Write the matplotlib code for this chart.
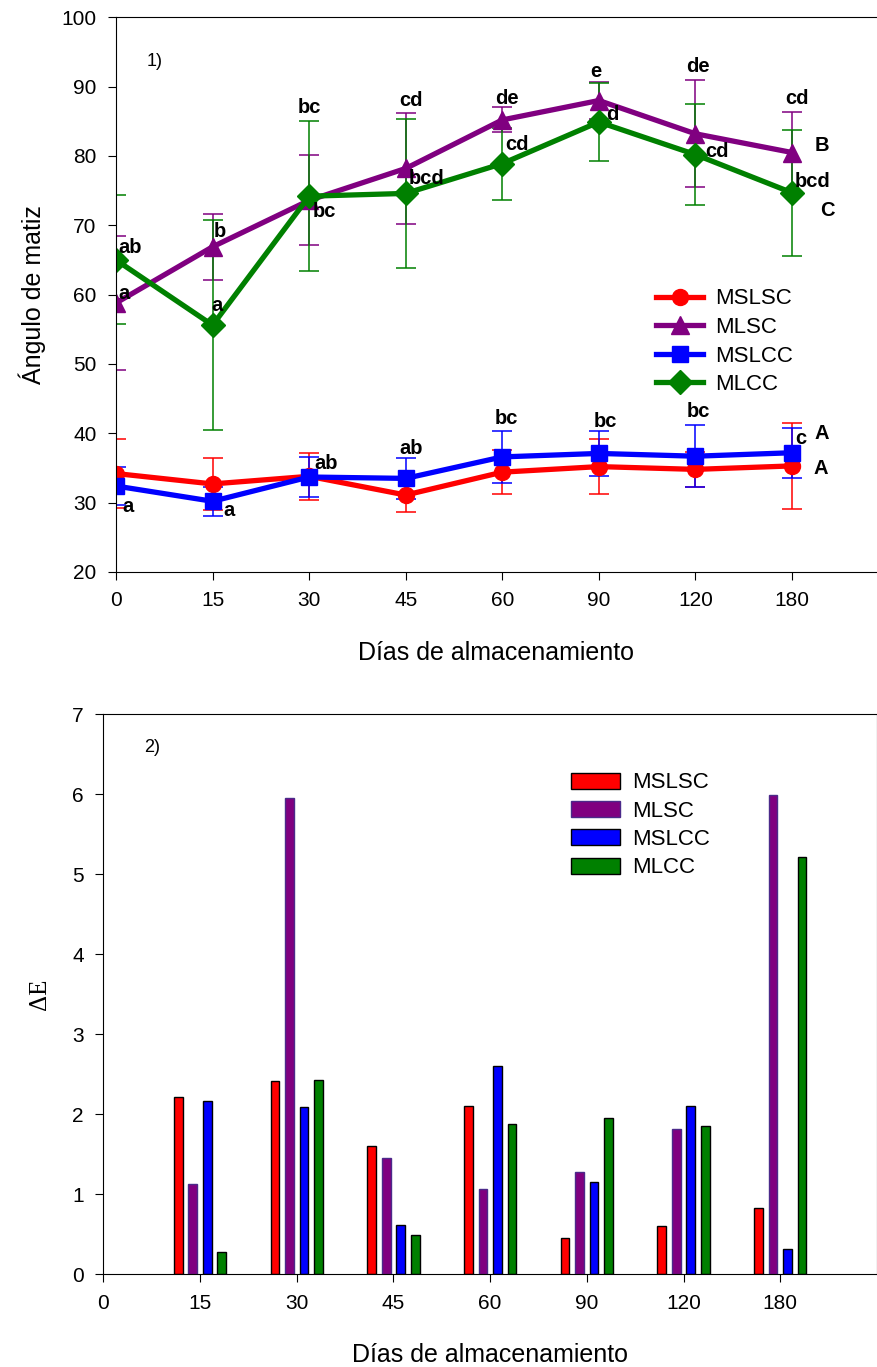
import numpy as np
import matplotlib
matplotlib.use('Agg')
from matplotlib import pyplot as plt

plt.rcParams['font.family'] = ['Liberation Sans', 'DejaVu Sans']

# Datos
dias = ['0', '15', '30', '45', '60', '90', '120', '180']
series = ['MSLSC', 'MLSC', 'MSLCC', 'MLCC']
colores = ['#ff0000', '#800080', '#0000ff', '#008000']
marcadores = ['o', '^', 's', 'D']

matiz_mslsc = [34.2, 32.7, 33.8, 31.1, 34.4, 35.2, 34.8, 35.3]
matiz_mlsc = [58.8, 66.9, 73.6, 78.2, 85.2, 88.0, 83.2, 80.5]
matiz_mslcc = [32.4, 30.2, 33.7, 33.5, 36.6, 37.1, 36.7, 37.2]
matiz_mlcc = [65.0, 55.6, 74.2, 74.6, 78.9, 84.9, 80.2, 74.7]

err_mslsc = [5.0, 3.7, 3.4, 2.5, 3.2, 4.0, 2.5, 6.2]
err_mlsc = [9.7, 4.8, 6.5, 8.0, 1.8, 2.6, 7.7, 5.8]
err_mslcc = [2.7, 2.1, 2.9, 3.0, 3.8, 3.3, 4.5, 3.6]
err_mlcc = [9.3, 15.1, 10.8, 10.7, 5.2, 5.6, 7.3, 9.1]

# letras de significancia
letras_mslsc = [''] * 8
letras_mlsc = ['a', 'b', 'bc', 'cd', 'de', 'e', 'de', 'cd']
letras_mslcc = ['a', 'a', 'ab', 'ab', 'bc', 'bc', 'bc', 'c']
letras_mlcc = ['ab', 'a', 'bc', 'bcd', 'cd', 'd', 'cd', 'bcd']
grupos = ['A', 'B', 'A', 'C']

# posicion de las letras (pixeles respecto al punto) y alineacion
off_mslsc = [(0, 0)] * 8
ha_mslsc = ['left'] * 8
off_mlsc = [(2, 9), (1, 15), (0, 93), (5, 68), (5, 21), (-3, 29), (2, 67), (5, 54)]
ha_mlsc = ['left', 'left', 'center', 'center', 'center', 'center', 'center', 'center']
off_mslcc = [(6, -20), (11, -9), (5, 14), (5, 30), (4, 38), (7, 32), (3, 45), (3, 14)]
ha_mslcc = ['left', 'left', 'left', 'center', 'center', 'center', 'center', 'left']
off_mlcc = [(2, 12), (-1, 20), (4, -15), (3, 15), (3, 19), (7, 7), (10, 3), (3, 11)]
ha_mlcc = ['left'] * 8
off_grupos = [(29, -3), (30, 7), (30, 19), (35, -18)]

delta_mslsc = [2.22, 2.42, 1.60, 2.10, 0.46, 0.61, 0.83]
delta_mlsc = [1.13, 5.96, 1.46, 1.07, 1.275, 1.82, 5.99]
delta_mslcc = [2.17, 2.09, 0.62, 2.60, 1.15, 2.10, 0.32]
delta_mlcc = [0.28, 2.43, 0.49, 1.875, 1.95, 1.85, 5.22]

fig = plt.figure(figsize=(8.78, 13.67), dpi=100)

# ---- Grafico 1 ----
ax1 = fig.add_axes([116 / 878, 1 - 572 / 1367, 761 / 878, 554.7 / 1367])
x = np.arange(len(dias))
valores = [matiz_mslsc, matiz_mlsc, matiz_mslcc, matiz_mlcc]
errores = [err_mslsc, err_mlsc, err_mslcc, err_mlcc]
letras = [letras_mslsc, letras_mlsc, letras_mslcc, letras_mlcc]
offs = [off_mslsc, off_mlsc, off_mslcc, off_mlcc]
has = [ha_mslsc, ha_mlsc, ha_mslcc, ha_mlcc]
tam = [11.5, 13, 11, 12]

lineas = []
for k in range(4):
    cont = ax1.errorbar(x, valores[k], yerr=errores[k], color=colores[k], marker=marcadores[k],
                        markersize=tam[k], linewidth=3.8, elinewidth=1.1, capsize=7,
                        capthick=1.1, label=series[k])
    lineas.append(cont.lines[0])
    for i in range(len(x)):
        if letras[k][i]:
            ax1.annotate(letras[k][i], (x[i], valores[k][i]), xytext=offs[k][i],
                         textcoords='offset pixels', ha=has[k][i], va='center',
                         fontsize=14.5, fontweight='bold')
    ax1.annotate(grupos[k], (x[-1], valores[k][-1]), xytext=off_grupos[k],
                 textcoords='offset pixels', ha='center', va='center',
                 fontsize=14.5, fontweight='bold')

ax1.set_xlim(0, 7.88)
ax1.set_ylim(20, 100)
ax1.set_xticks(x)
ax1.set_xticklabels(dias)
ax1.set_yticks(np.arange(20, 101, 10))
ax1.spines['right'].set_visible(False)
ax1.tick_params(direction='out', length=6, pad=8, labelsize=15)
ax1.set_xlabel('Días de almacenamiento', fontsize=18, labelpad=22)
ax1.set_ylabel('Ángulo de matiz', fontsize=18, labelpad=11)
ax1.text(0.04, 0.92, '1)', transform=ax1.transAxes, fontsize=13, va='center')
ax1.legend(lineas, series, loc='center left', bbox_to_anchor=(0.71, 0.415), frameon=False,
           fontsize=16, handlelength=2.1, handletextpad=0.55, labelspacing=0.34,
           borderpad=0, borderaxespad=0)

# ---- Grafico 2 ----
ax2 = fig.add_axes([103.3 / 878, 1 - 1274.3 / 1367, 773.7 / 878, 560 / 1367])
xb = np.arange(1, len(dias))
deltas = [delta_mslsc, delta_mlsc, delta_mslcc, delta_mlcc]
bordes = ['black', '#4b2a8a', 'black', 'black']
desp = [-0.225, -0.075, 0.075, 0.225]
for k in range(4):
    ax2.bar(xb + desp[k], deltas[k], width=0.09, color=colores[k], edgecolor=bordes[k],
            linewidth=1, label=series[k])

ax2.set_xlim(0, 8)
ax2.set_ylim(0, 7)
ax2.set_xticks(x)
ax2.set_xticklabels(dias)
ax2.tick_params(direction='out', length=6, pad=8, labelsize=15)
ax2.set_xlabel('Días de almacenamiento', fontsize=18, labelpad=22)
ax2.set_ylabel('ΔE', fontsize=18, family=['Liberation Serif', 'DejaVu Serif'], labelpad=15)
ax2.text(0.053, 0.94, '2)', transform=ax2.transAxes, fontsize=13, va='center')
ax2.legend(loc='center left', bbox_to_anchor=(0.604, 0.8016), frameon=False,
           fontsize=16, handlelength=2.2, handleheight=0.72, handletextpad=0.55,
           labelspacing=0.33, borderpad=0, borderaxespad=0)

fig.savefig('out.png', dpi=100)
